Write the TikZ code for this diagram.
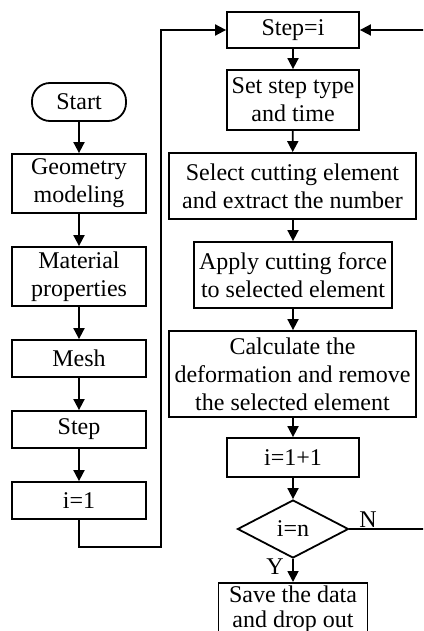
\documentclass[tikz,border=0pt]{standalone}
\usepackage{fontspec}
\setmainfont{Liberation Serif}
\usetikzlibrary{arrows.meta,shapes.geometric}
\begin{document}
\begin{tikzpicture}[x=1pt,y=-1pt,
  every node/.style={font=\fontsize{24}{28}\selectfont, inner sep=0pt, align=center},
  box/.style={draw, line width=1.8pt, rectangle},
  term/.style={draw, line width=1.8pt, rectangle, rounded corners=18pt, minimum width=94pt, minimum height=38pt},
  decision/.style={draw, line width=1.8pt, diamond, aspect=1.9, minimum width=111pt, minimum height=58pt},
  flow/.style={line width=1.8pt, -{Triangle[length=11pt,width=11pt]}}]
\useasboundingbox (0,0) rectangle (423,631);
\clip (0,0) rectangle (423,631);
% left column
\node[term] (start) at (79,102) {Start};
\node[box, minimum width=134pt, minimum height=59pt] (geom) at (79,183.5) {Geometry\\modeling};
\node[box, minimum width=134pt, minimum height=59pt] (mat) at (79,276.5) {Material\\properties};
\node[box, minimum width=134pt, minimum height=37pt] (mesh) at (79,358.5) {Mesh};
\node[box, minimum width=134pt, minimum height=37pt] (step) at (79,429.5) {Step};
\node[box, minimum width=134pt, minimum height=37pt] (i1) at (79,500.5) {i=1};
% right column
\node[box, minimum width=132pt, minimum height=36pt] (stepi) at (293,30) {Step=i};
\node[box, minimum width=132pt, minimum height=60pt] (settype) at (293,100) {Set step type\\and time};
\node[box, minimum width=247pt, minimum height=66pt] (select) at (292.5,186) {Select cutting element\\and extract the number};
\node[box, minimum width=198pt, minimum height=66pt] (apply) at (293,275) {Apply cutting force\\to selected element};
\node[box, minimum width=247pt, minimum height=86pt] (calc) at (292.5,374) {Calculate the\\deformation and remove\\the selected element};
\node[box, minimum width=132pt, minimum height=39pt] (i11) at (293,457.5) {i=1+1};
\node[decision] (dec) at (293,529) {i=n};
\node[box, anchor=north, minimum width=149pt, inner ysep=2.6pt, font=\fontsize{24}{25}\selectfont] (save) at (293,582) {Save the data\\and drop out};
\node (nlab) at (368,520) {N};
\node (ylab) at (275,567) {Y};
% helper coordinates
\coordinate (lb) at (79,547);
\coordinate (lt) at (161,30);
\coordinate (rb) at (432,529);
% connectors
\draw[flow] (start) -- (geom);
\draw[flow] (geom) -- (mat);
\draw[flow] (mat) -- (mesh);
\draw[flow] (mesh) -- (step);
\draw[flow] (step) -- (i1);
\draw[flow] (i1.south) -- (lb) -| (lt) -- (stepi.west);
\draw[flow] (stepi) -- (settype);
\draw[flow] (settype) -- (select);
\draw[flow] (select.south -| apply.north) -- (apply.north);
\draw[flow] (apply) -- (calc.north -| apply.south);
\draw[flow] (calc.south -| i11.north) -- (i11);
\draw[flow] (i11) -- (dec);
\draw[flow] (dec) -- (save);
\draw[flow] (dec.east) -- (rb) |- (stepi.east);
\end{tikzpicture}
\end{document}
